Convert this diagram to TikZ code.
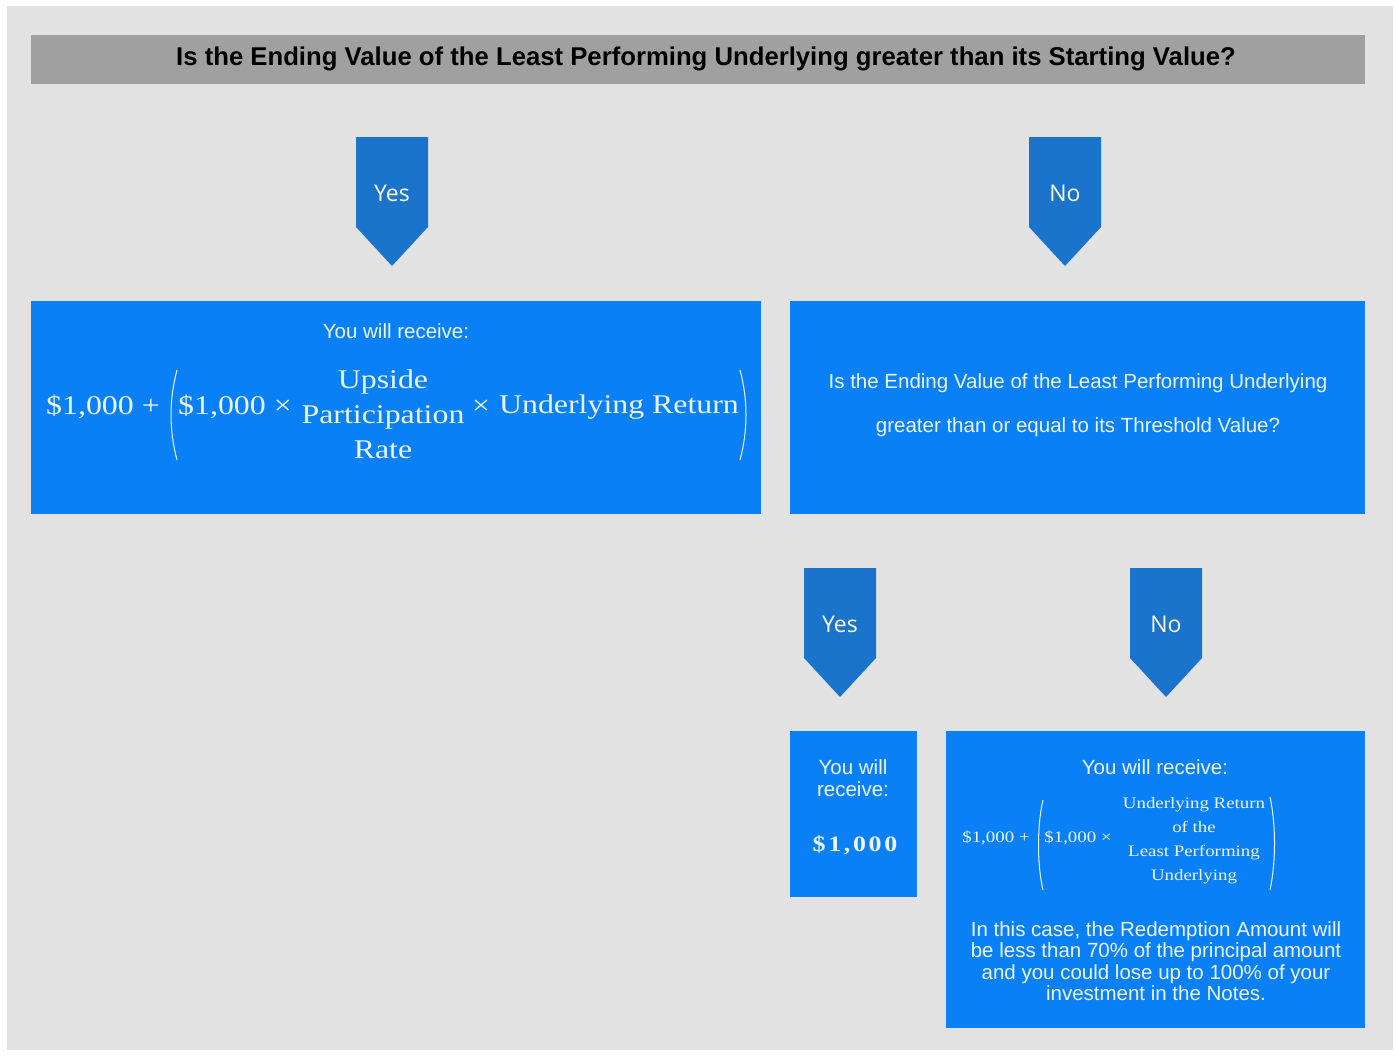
\documentclass[tikz,border=0pt]{standalone}
\usepackage{fontspec}
\setmainfont{Liberation Sans}
\newfontfamily\formfont[FakeStretch=1.18]{Liberation Serif}
\newfontfamily\tagfont{Open Sans}
\definecolor{panelgray}{RGB}{226,226,226}
\definecolor{bannergray}{RGB}{160,160,160}
\definecolor{boxblue}{RGB}{10,128,246}
\definecolor{tagblue}{RGB}{26,116,204}
\definecolor{boxtext}{RGB}{236,246,255}
\tikzset{
  box/.style={fill=boxblue, inner sep=0pt, anchor=north west},
  lbl/.style={text=boxtext, font=\fontsize{20.5}{21.5}\selectfont, align=center, inner sep=0pt},
  frm/.style={text=boxtext, font=\formfont\fontsize{27}{35}\selectfont, inner sep=0pt, align=center},
  frms/.style={text=boxtext, font=\formfont\fontsize{16}{24}\selectfont, inner sep=0pt, align=center},
  tag/.style={fill=tagblue},
  tagtext/.style={text=white, font=\tagfont\fontsize{23}{26}\selectfont, inner sep=0pt},
  paren/.style={draw=boxtext, line width=1pt},
}
\newcommand\tagarrow[4]{%
  \fill[tag] (#1-36,#2) -- (#1+36,#2) -- (#1+36,#2+90) -- (#1,#2+129) -- (#1-36,#2+90) -- cycle;
  \node[tagtext] (#4) at (#1,#2+56) {#3};}
\begin{document}
\begin{tikzpicture}[x=1pt,y=-1pt]
\useasboundingbox (0,0) rectangle (1397,1055);
\fill[white] (0,0) rectangle (1397,1055);
\fill[panelgray] (7,6) rectangle (1393,1050);
\fill[bannergray] (31,35) rectangle (1365,84);
\node[inner sep=0pt, font=\bfseries\fontsize{25.7}{28}\selectfont] (title) at (706,59)
  {Is the Ending Value of the Least Performing Underlying greater than its Starting Value?};

\tagarrow{392}{137}{Yes}{yes1}
\tagarrow{1065}{137}{No}{no1}

\node[box, minimum width=730pt, minimum height=213pt] (ybox) at (31,301) {};
\node[box, minimum width=575pt, minimum height=213pt] (qbox) at (790,301) {};

\node[lbl] (yrec) at (396,331) {You will receive:};
\node[frm] (f1) at (103,407) {\$1,000 +};
\draw[paren] (177,370) .. controls (169,400) and (169,430) .. (177,460);
\node[frm] (f2) at (235,407) {\$1,000 ×};
\node[frm] (f3) at (383,414) {Upside\\Participation\\Rate};
\node[frm] (f4) at (481,407) {×};
\node[frm] (f5) at (619,407) {Underlying Return};
\draw[paren] (740,370) .. controls (748,400) and (748,430) .. (740,460);

\node[lbl] (q1) at (1078,383) {Is the Ending Value of the Least Performing Underlying};
\node[lbl] (q2) at (1078,427) {greater than or equal to its Threshold Value?};

\tagarrow{840}{568}{Yes}{yes2}
\tagarrow{1166}{568}{No}{no2}

\node[box, minimum width=127pt, minimum height=166pt] (sbox) at (790,731) {};
\node[box, minimum width=419pt, minimum height=297pt] (nbox) at (946,731) {};

\node[lbl] (srec) at (853,778) {You will\\receive:};
\node[text=boxtext, inner sep=0pt, font=\formfont\bfseries\fontsize{22}{24}\selectfont\addfontfeature{LetterSpace=12}] (samt) at (855,845) {\$1,000};

\node[lbl] (nrec) at (1155,767) {You will receive:};
\node[frms] (g1) at (996,838) {\$1,000 +};
\draw[paren] (1043,800) .. controls (1037,825) and (1037,865) .. (1043,890);
\node[frms] (g2) at (1078,838) {\$1,000 ×};
\node[frms] (g3) at (1194,841) {Underlying Return\\of the\\Least Performing\\Underlying};
\draw[paren] (1270,797) .. controls (1276,825) and (1276,862) .. (1270,890);

\node[lbl] (para) at (1156,961) {In this case, the Redemption Amount will\\be less than 70\% of the principal amount\\and you could lose up to 100\% of your\\investment in the Notes.};
\end{tikzpicture}
\end{document}
